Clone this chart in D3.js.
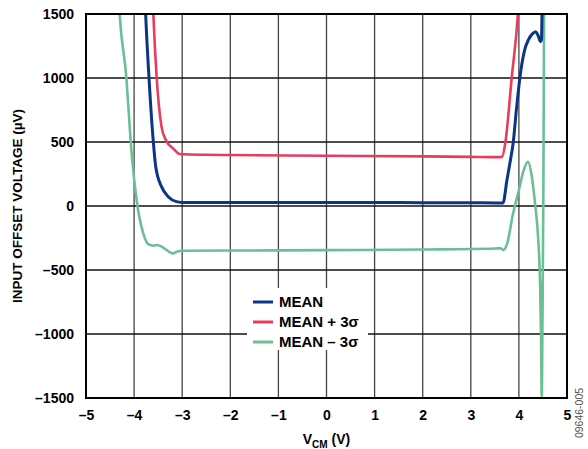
<!DOCTYPE html>
<html><head><meta charset="utf-8">
<script src="https://cdn.jsdelivr.net/npm/d3@7"></script>
<style>body{margin:0;background:#fff}svg{display:block}text{font-family:Arial,"Liberation Sans",sans-serif;font-weight:bold}</style>
</head><body><svg id="c" width="588" height="449"></svg>
<script>
const xTicks = [-5,-4,-3,-2,-1,0,1,2,3,4,5];
const yTicks = [-1500,-1000,-500,0,500,1000,1500];

const meanV  = [-3.80,-3.76,-3.69,-3.60,-3.55,-3.43,-3.29,-3.12,-3.0,-2.5,-1,0,1,2,3,3.55,3.67,3.75,3.82,3.88,3.95,4.02,4.12,4.20,4.28,4.35,4.40,4.45,4.47,4.48,4.49];
const meanUV = [1900,1500,1000,500,307,151,73,34,28,27,27,27,27,26,25,24,24,200,350,490,760,1000,1219,1300,1345,1362,1330,1284,1300,1500,1800];

const plusV  = [-3.63,-3.60,-3.53,-3.43,-3.34,-3.19,-3.05,-2.5,-2,0,2,3,3.55,3.65,3.72,3.85,3.98,4.02];
const plusUV = [1800,1500,1000,620,516,450,406,400,398,393,388,384,382,384,500,1000,1500,1750];

const minusV  = [-4.33,-4.30,-4.16,-4.07,-3.93,-3.81,-3.70,-3.60,-3.52,-3.42,-3.30,-3.20,-3.10,-3.0,-2,0,2,3.5,3.62,3.68,3.75,3.88,4.0,4.1,4.19,4.26,4.33,4.40,4.44,4.46,4.475,4.49,4.51,4.525];
const minusUV = [1700,1500,1000,500,0,-213,-300,-310,-305,-320,-350,-370,-355,-350,-348,-345,-340,-332,-330,-344,-300,-57,125,280,346,250,40,-250,-600,-1000,-1490,-900,200,1700];

const seriesNames = ["MEAN","MEAN + 3σ","MEAN – 3σ"];
const seriesColors = ["#0c3585","#e83c5e","#6bbf95"];

const fmt = d => (d < 0 ? "–" + Math.abs(d) : "" + d);

const svg = d3.select("#c");
const L = 86, R = 567, T = 14, B = 398;
const x = d3.scaleLinear().domain([-5,5]).range([L,R]);
const y = d3.scaleLinear().domain([-1500,1500]).range([B,T]);

// grid
const g = svg.append("g");
g.selectAll("line.v").data(xTicks.slice(1,-1)).enter().append("line")
  .attr("x1",d=>x(d)).attr("x2",d=>x(d)).attr("y1",T).attr("y2",B)
  .attr("stroke","#444").attr("stroke-width",1.3);
g.selectAll("line.h").data(yTicks.slice(1,-1)).enter().append("line")
  .attr("y1",d=>y(d)).attr("y2",d=>y(d)).attr("x1",L).attr("x2",R)
  .attr("stroke","#111").attr("stroke-width",1.3);

// legend background
svg.append("rect").attr("x",247).attr("y",288).attr("width",121).attr("height",62).attr("fill","#fff");

// curves
svg.append("clipPath").attr("id","clip").append("rect").attr("x",L).attr("y",T).attr("width",R-L).attr("height",B-T);
const line = d3.line().x(d=>x(d[0])).y(d=>y(d[1])).curve(d3.curveMonotoneX);
const data = [
  d3.zip(minusV, minusUV),
  d3.zip(plusV, plusUV),
  d3.zip(meanV, meanUV)
];
const cols = [seriesColors[2], seriesColors[1], seriesColors[0]];
const cg = svg.append("g").attr("clip-path","url(#clip)");
data.forEach((d,i)=>{
  cg.append("path").attr("d",line(d)).attr("fill","none").attr("stroke",cols[i])
    .attr("stroke-width",i===2?3:2.6).attr("stroke-linejoin","round");
});

// border
svg.append("rect").attr("x",L).attr("y",T).attr("width",R-L).attr("height",B-T)
  .attr("fill","none").attr("stroke","#000").attr("stroke-width",2);

// axes labels
const xAxis = d3.axisBottom(x).tickValues(xTicks).tickFormat(fmt).tickSize(0).tickPadding(12);
const xa = svg.append("g").attr("transform",`translate(0,${B})`).call(xAxis);
xa.select(".domain").remove();
xa.selectAll("text").attr("font-size",14).attr("fill","#000").style("font-family","Arial, 'Liberation Sans', sans-serif").style("font-weight","bold");

const yAxis = d3.axisLeft(y).tickValues(yTicks).tickFormat(fmt).tickSize(0).tickPadding(12);
const ya = svg.append("g").attr("transform",`translate(${L},0)`).call(yAxis);
ya.select(".domain").remove();
ya.selectAll("text").attr("font-size",14).attr("fill","#000").style("font-family","Arial, 'Liberation Sans', sans-serif").style("font-weight","bold");

// titles
const xt = svg.append("text").attr("x",(L+R)/2).attr("y",444).attr("text-anchor","middle").attr("font-size",14);
xt.append("tspan").text("V");
xt.append("tspan").text("CM").attr("font-size",10).attr("dy",4);
xt.append("tspan").text(" (V)").attr("dy",-4);

svg.append("text").attr("transform",`translate(22,${(T+B)/2}) rotate(-90)`).attr("text-anchor","middle")
  .attr("font-size",13.5).text("INPUT OFFSET VOLTAGE (µV)");

svg.append("text").attr("transform","translate(583,413) rotate(-90)").attr("text-anchor","middle")
  .attr("font-size",10.5).attr("fill","#555").style("font-weight","normal").text("09646-005");

// legend
const lg = svg.append("g");
seriesNames.forEach((n,i)=>{
  const yy = 302 + i*20;
  lg.append("line").attr("x1",253).attr("x2",273).attr("y1",yy).attr("y2",yy)
    .attr("stroke",seriesColors[i]).attr("stroke-width",3);
  lg.append("text").attr("x",279).attr("y",yy).attr("dy","0.36em").attr("font-size",15).text(n);
});
</script></body></html>
